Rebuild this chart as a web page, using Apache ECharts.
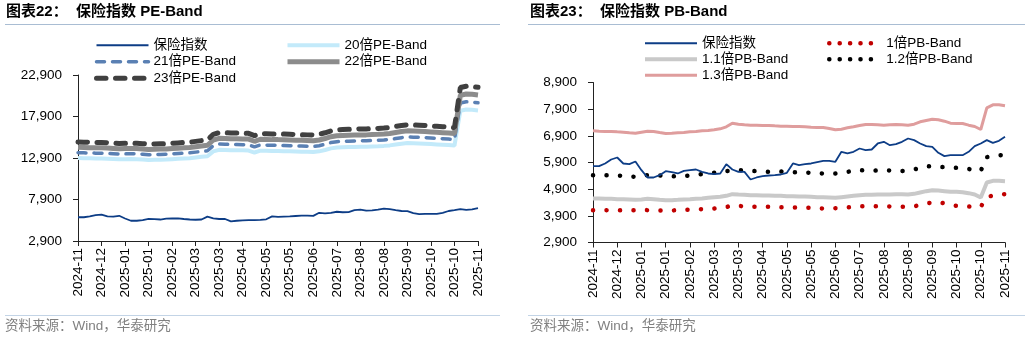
<!DOCTYPE html>
<html><head><meta charset="utf-8">
<script src="https://cdn.jsdelivr.net/npm/echarts@6/dist/echarts.min.js"></script>
<style>html,body{margin:0;padding:0;background:#fff}#c{width:1029px;height:340px}</style>
</head><body><div id="c"></div>
<script>
const tickLabels = ['2024-11','2024-12','2025-01','2025-01','2025-02','2025-03','2025-03','2025-04','2025-05','2025-05','2025-06','2025-07','2025-08','2025-08','2025-09','2025-10','2025-10','2025-11'];
const peTicks = [2900, 7900, 12900, 17900, 22900];
const pbTicks = [2900, 3900, 4900, 5900, 6900, 7900, 8900];

const indexValues = [5763,5763,5863,6013,6088,5863,5838,5938,5613,5338,5338,5425,5575,5538,5488,5588,5613,5638,5550,5488,5463,5488,5838,5638,5550,5550,5263,5338,5388,5413,5425,5450,5513,5863,5800,5838,5863,5913,5963,5963,5925,6300,6238,6300,6425,6363,6388,6613,6675,6550,6588,6675,6800,6738,6613,6513,6488,6263,6138,6175,6175,6175,6300,6513,6613,6738,6638,6713,6863];

const pe20 = [12900,12880,12860,12840,12840,12820,12780,12740,12760,12780,12760,12720,12660,12680,12700,12720,12760,12800,12840,12880,12960,13040,13120,13700,13880,13860,13840,13840,13820,13800,13560,13780,13760,13740,13740,13720,13700,13680,13660,13640,13620,13700,13860,14060,14160,14200,14220,14240,14260,14260,14300,14320,14360,14420,14520,14620,14700,14680,14660,14620,14580,14540,14500,14460,14400,18600,18740,18700,18620];
const pe21 = [13545,13524,13503,13482,13482,13461,13419,13377,13398,13419,13398,13356,13293,13314,13335,13356,13398,13440,13482,13524,13608,13692,13776,14385,14574,14553,14532,14532,14511,14490,14238,14469,14448,14427,14427,14406,14385,14364,14343,14322,14301,14385,14553,14763,14868,14910,14931,14952,14973,14973,15015,15036,15078,15141,15246,15351,15435,15414,15393,15351,15309,15267,15225,15183,15120,19530,19677,19635,19551];
const pe22 = [14190,14168,14146,14124,14124,14102,14058,14014,14036,14058,14036,13992,13926,13948,13970,13992,14036,14080,14124,14168,14256,14344,14432,15070,15268,15246,15224,15224,15202,15180,14916,15158,15136,15114,15114,15092,15070,15048,15026,15004,14982,15070,15246,15466,15576,15620,15642,15664,15686,15686,15730,15752,15796,15862,15972,16082,16170,16148,16126,16082,16038,15994,15950,15906,15840,20460,20614,20570,20482];
const pe23 = [14835,14812,14789,14766,14766,14743,14697,14651,14674,14697,14674,14628,14559,14582,14605,14628,14674,14720,14766,14812,14904,14996,15088,15755,15962,15939,15916,15916,15893,15870,15594,15847,15824,15801,15801,15778,15755,15732,15709,15686,15663,15755,15939,16169,16284,16330,16353,16376,16399,16399,16445,16468,16514,16583,16698,16813,16905,16882,16859,16813,16767,16721,16675,16629,16560,21390,21551,21505,21413];

const pb10 = [4113,4113,4113,4100,4100,4113,4113,4113,4125,4113,4113,4100,4100,4100,4113,4125,4125,4138,4150,4163,4175,4200,4225,4300,4275,4250,4238,4238,4238,4238,4225,4225,4225,4213,4213,4200,4200,4188,4175,4175,4188,4200,4213,4238,4263,4263,4263,4263,4263,4250,4250,4238,4238,4250,4313,4363,4400,4425,4363,4300,4275,4263,4250,4238,4238,4600,4663,4700,4713];
const pb11 = [4550,4550,4538,4538,4525,4525,4513,4500,4513,4538,4525,4500,4488,4488,4500,4513,4525,4538,4550,4575,4600,4613,4650,4713,4700,4688,4675,4675,4663,4663,4650,4650,4638,4638,4625,4625,4613,4600,4600,4588,4575,4600,4625,4650,4675,4688,4688,4700,4700,4700,4713,4713,4700,4725,4775,4825,4863,4850,4825,4800,4800,4788,4750,4700,4588,5150,5213,5213,5200];
const pb12 = [5425,5425,5425,5425,5413,5400,5375,5363,5400,5425,5425,5413,5400,5388,5375,5388,5413,5438,5463,5488,5513,5538,5575,5600,5613,5600,5588,5575,5563,5550,5560,5563,5550,5538,5538,5525,5513,5500,5488,5488,5488,5513,5550,5588,5613,5600,5588,5600,5613,5600,5588,5575,5600,5638,5700,5763,5750,5738,5725,5713,5700,5680,5660,5600,5588,6100,6138,6163,6200];
const pb13 = [7088,7075,7063,7063,7050,7038,7013,7000,7038,7075,7063,7025,6988,7000,7013,7025,7050,7063,7088,7100,7125,7163,7238,7375,7338,7313,7300,7300,7288,7288,7275,7263,7263,7250,7250,7238,7225,7213,7213,7175,7125,7150,7200,7238,7288,7325,7325,7313,7300,7313,7325,7313,7300,7338,7425,7475,7525,7500,7450,7375,7363,7363,7300,7250,7138,7950,8063,8063,8025];

const STEP = 4;
const categories = indexValues.map((_, i) => tickLabels[Math.floor(i / STEP)] + '#' + i);

const FONT = '"Liberation Sans", Arial, "Noto Sans CJK SC", sans-serif';
const C = {
  index: '#0d3d86', pe20: '#c3eafa', pe21: '#5a80b3', pe22: '#8c8c8c', pe23: '#404040',
  pb10: '#c00000', pb11: '#c9c9c9', pb12: '#000000', pb13: '#df9d9d'
};
const S = {
  index: { color: C.index, width: 1.8 },
  pe20: { color: C.pe20, width: 4 },
  pe21: { color: C.pe21, width: 3.5, type: [8, 8], cap: 'round' },
  pe22: { color: C.pe22, width: 5 },
  pe23: { color: C.pe23, width: 5, type: [9.5, 9.5], cap: 'round' },
  pb10: { color: C.pb10, width: 4.5, type: [0.1, 13.4], cap: 'round' },
  pb11: { color: C.pb11, width: 4 },
  pb12: { color: C.pb12, width: 4.5, type: [0.1, 13.4], cap: 'round' },
  pb13: { color: C.pb13, width: 3 }
};

function xAxis(gi) {
  return {
    type: 'category', gridIndex: gi, data: categories, boundaryGap: false,
    axisLine: { show: true, lineStyle: { color: '#222', width: 1 } },
    axisTick: { show: true, interval: STEP - 1, length: 5, inside: false, lineStyle: { color: '#222' } },
    axisLabel: { interval: STEP - 1, rotate: 90, margin: 7, fontSize: 13.5, color: '#000', fontFamily: FONT,
      formatter: v => v.split('#')[0] },
    splitLine: { show: false }
  };
}
function yAxis(gi, ticks) {
  return {
    type: 'value', gridIndex: gi, min: ticks[0], max: ticks[ticks.length - 1],
    axisLine: { show: true, lineStyle: { color: '#222', width: 1 } },
    axisTick: { show: true, length: 5, customValues: ticks, lineStyle: { color: '#222' } },
    axisLabel: { customValues: ticks, margin: 16, fontSize: 13.5, color: '#000', fontFamily: FONT,
      formatter: v => v.toLocaleString('en-US') },
    splitLine: { show: false }
  };
}
function line(name, data, gi, style) {
  return {
    name, type: 'line', data, xAxisIndex: gi, yAxisIndex: gi, symbol: 'none', showSymbol: false,
    silent: true, animation: false,
    lineStyle: Object.assign({}, style),
    itemStyle: { color: style.color }
  };
}
function li(name, style, override) {
  return { name, lineStyle: Object.assign({}, style, override || {}) };
}

const legendBase = {
  orient: 'vertical', itemWidth: 52, itemHeight: 14, itemGap: 3, selectedMode: false, padding: 0,
  itemStyle: { opacity: 0, color: 'rgba(0,0,0,0)', borderWidth: 0 },
  textStyle: { fontSize: 13.5, color: '#000', fontFamily: FONT }
};

const option = {
  animation: false,
  grid: [
    { left: 78, top: 75, width: 400, height: 166 },
    { left: 593, top: 82.5, width: 412, height: 160 }
  ],
  xAxis: [xAxis(0), xAxis(1)],
  yAxis: [yAxis(0, peTicks), yAxis(1, pbTicks)],
  legend: [
    Object.assign({}, legendBase, { left: 94, top: 38.5, data: [li('保险指数', S.index, { width: 2 }), li('21倍PE-Band', S.pe21), li('23倍PE-Band', S.pe23)] }),
    Object.assign({}, legendBase, { left: 285, top: 38.5, data: [li('20倍PE-Band', S.pe20), li('22倍PE-Band', S.pe22)] }),
    Object.assign({}, legendBase, { left: 643, top: 36.5, itemGap: 2.5, data: [li('保险指数', S.index, { width: 2 }), li('1.1倍PB-Band', S.pb11), li('1.3倍PB-Band', S.pb13)] }),
    Object.assign({}, legendBase, { left: 827, top: 36.5, itemGap: 2.5, data: [
      li('1倍PB-Band', S.pb10, { type: [0.1, 10.3] }),
      li('1.2倍PB-Band', S.pb12, { type: [0.1, 10.3] })
    ] })
  ],
  series: [
    line('20倍PE-Band', pe20, 0, S.pe20),
    line('21倍PE-Band', pe21, 0, S.pe21),
    line('22倍PE-Band', pe22, 0, S.pe22),
    line('23倍PE-Band', pe23, 0, S.pe23),
    line('保险指数', indexValues, 0, S.index),

    line('1.1倍PB-Band', pb11, 1, S.pb11),
    line('1.3倍PB-Band', pb13, 1, S.pb13),
    line('1倍PB-Band', pb10, 1, S.pb10),
    line('1.2倍PB-Band', pb12, 1, S.pb12),
    line('保险指数', indexValues, 1, S.index)
  ],
  graphic: [
    { type: 'text', left: 6, top: 4, style: { text: '图表22：  保险指数 PE-Band', font: 'bold 15px ' + FONT, fill: '#000' } },
    { type: 'text', left: 530, top: 4, style: { text: '图表23：  保险指数 PB-Band', font: 'bold 15px ' + FONT, fill: '#000' } },
    { type: 'line', shape: { x1: 5, y1: 24.5, x2: 500, y2: 24.5 }, style: { stroke: '#a9bdd3', lineWidth: 1 } },
    { type: 'line', shape: { x1: 528, y1: 24.5, x2: 1025, y2: 24.5 }, style: { stroke: '#a9bdd3', lineWidth: 1 } },
    { type: 'line', shape: { x1: 5, y1: 315.5, x2: 500, y2: 315.5 }, style: { stroke: '#c3d4e6', lineWidth: 1 } },
    { type: 'line', shape: { x1: 528, y1: 315.5, x2: 1025, y2: 315.5 }, style: { stroke: '#c3d4e6', lineWidth: 1 } },
    { type: 'text', left: 5, top: 320, style: { text: '资料来源：Wind，华泰研究', font: '13.5px ' + FONT, fill: '#808080' } },
    { type: 'text', left: 530, top: 320, style: { text: '资料来源：Wind，华泰研究', font: '13.5px ' + FONT, fill: '#808080' } }
  ]
};
const chart = echarts.init(document.getElementById('c'), null, { renderer: 'canvas' });
chart.setOption(option);
</script>
</body></html>
